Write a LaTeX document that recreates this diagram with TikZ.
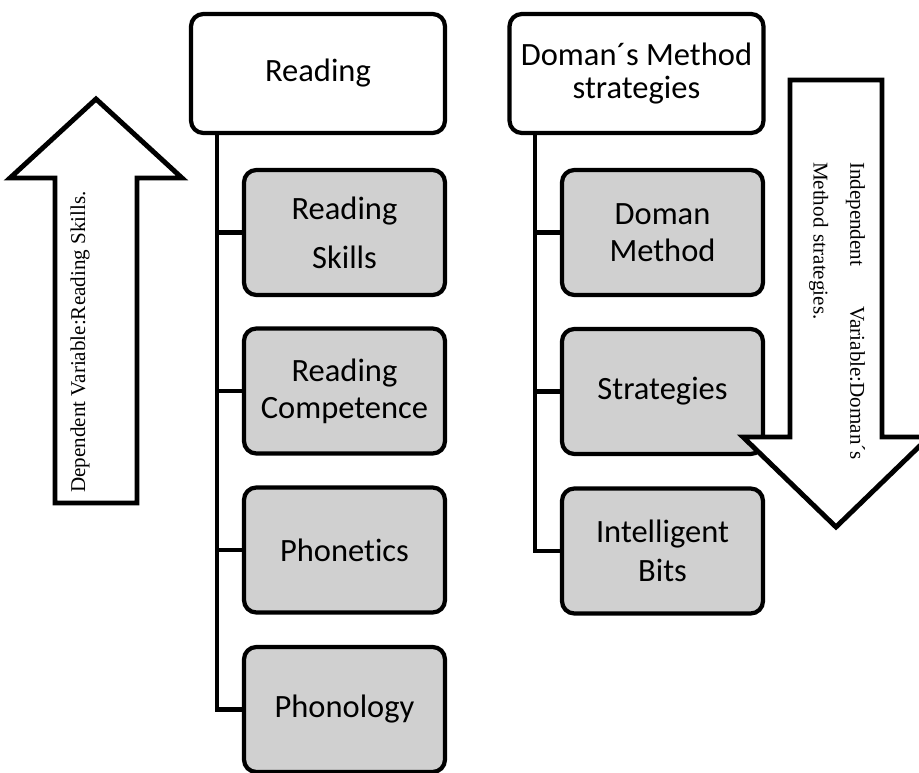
\documentclass[tikz,border=0pt]{standalone}
\usepackage{fontspec}
\setmainfont[Ligatures=NoCommon]{Carlito}
\newfontfamily\serifvar{Liberation Serif}
\definecolor{boxgray}{RGB}{208,208,208}

\begin{document}
\begin{tikzpicture}[x=0.02cm,y=-0.02cm]
		\useasboundingbox (0,0) rectangle (919,773);
		\tikzset{TopStyle/.style = {rectangle, rounded corners=7pt, draw, line width=2.4pt, fill=white,
				minimum width=5.08cm, minimum height=2.38cm, align=center, inner sep=2pt,
				font=\fontsize{18.5}{21}\selectfont},
			SubStyle/.style = {TopStyle, fill=boxgray, minimum width=4.02cm, minimum height=2.5cm},
			BranchStyle/.style = {line width=2.4pt},
			ArrowStyle/.style = {draw, line width=2.8pt, fill=white},
			VarStyle/.style = {inner sep=0pt, font=\serifvar\fontsize{12}{21}\selectfont}}
		% left tree
		\node[TopStyle] (reading) at (318,73.5) {Reading};
		\node[SubStyle] (skills) at (344.5,232.5) {Reading\\[7pt]Skills};
		\node[SubStyle] (competence) at (344.5,391) {Reading\\Competence};
		\node[SubStyle] (phonetics) at (344.5,550) {Phonetics};
		\node[SubStyle] (phonology) at (344.5,709.5) {Phonology};
		\coordinate (ltrunk) at (217,133);
		\draw[BranchStyle] (ltrunk) |- (phonology.west);
		\foreach \n in {skills,competence,phonetics}
			\draw[BranchStyle] (ltrunk |- \n.west) -- (\n.west);
		% right tree
		\node[TopStyle] (doman) at (636.5,73.5) {Doman´s Method\\[-2pt]strategies};
		\node[SubStyle] (method) at (662.5,232.5) {Doman\\Method};
		\node[SubStyle] (strategies) at (662.5,391.5) {Strategies};
		\node[SubStyle] (bits) at (662.5,551) {Intelligent\\[1pt]Bits};
		\coordinate (rtrunk) at (535,133);
		\draw[BranchStyle] (rtrunk) |- (bits.west);
		\foreach \n in {method,strategies}
			\draw[BranchStyle] (rtrunk |- \n.west) -- (\n.west);
		% variable arrows
		\draw[ArrowStyle] (55,503) -- (55,178) -- (10,178) -- (96,99) -- (182,178) -- (137,178) -- (137,503) -- cycle;
		\node[VarStyle, rotate=90] (dependent) at (80,342) {Dependent Variable:Reading Skills.};
		\draw[ArrowStyle] (790,80) -- (882,80) -- (882,437) -- (929,437) -- (836,527) -- (743,437) -- (790,437) -- cycle;
		\node[VarStyle, rotate=-90, text width=5.96cm, align=left] (independent) at (837,311)
			{Independent\hfill Variable:Doman´s\\Method strategies.};
\end{tikzpicture}
\end{document}
